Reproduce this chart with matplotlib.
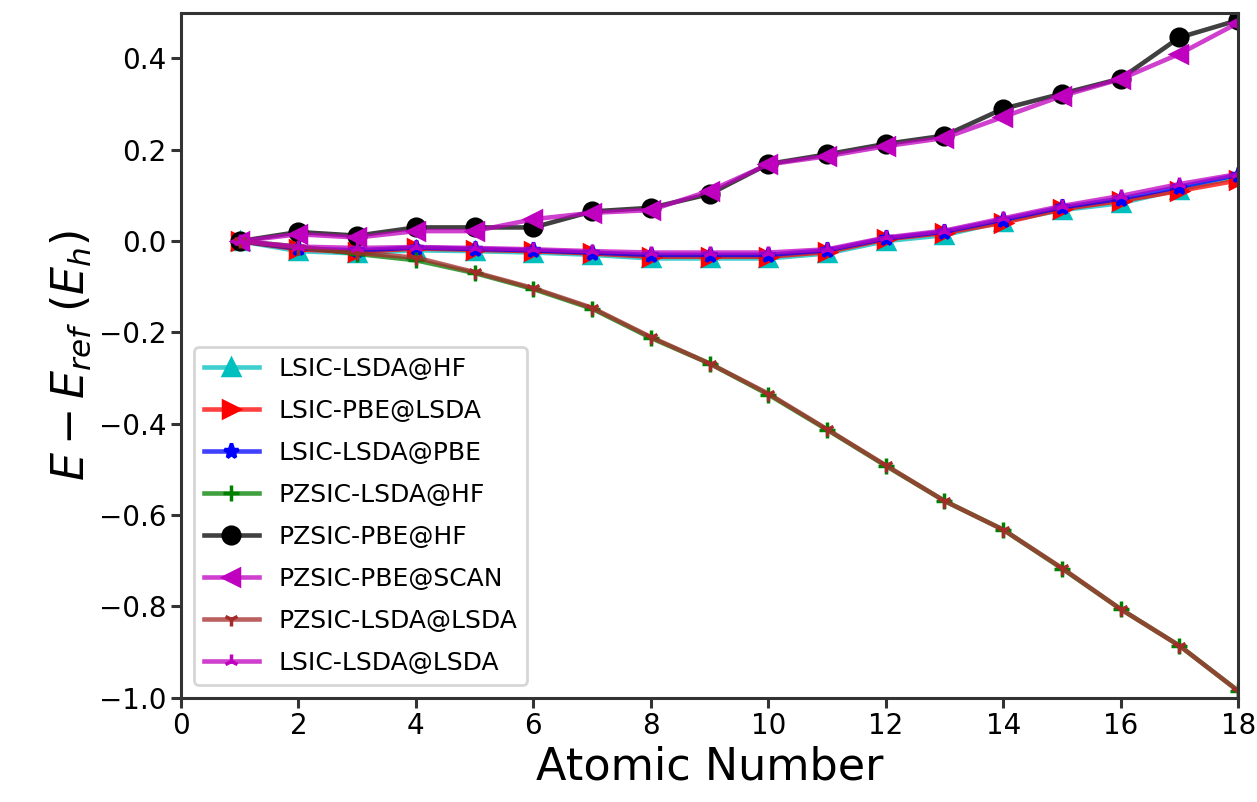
import matplotlib
matplotlib.use("Agg")
import matplotlib.pyplot as plt
from matplotlib.colors import to_rgba

atomic_number = list(range(1, 19))

lsic_lsda_hf = [0, -0.022, -0.027, -0.020, -0.022, -0.025, -0.030, -0.038, -0.038, -0.038, -0.027, 0.000, 0.013, 0.043, 0.068, 0.083, 0.113, 0.140]
lsic_pbe_lsda = [0, -0.018, -0.024, -0.016, -0.019, -0.022, -0.027, -0.034, -0.034, -0.034, -0.024, 0.004, 0.018, 0.040, 0.070, 0.088, 0.110, 0.133]
lsic_lsda_pbe = [0, -0.016, -0.020, -0.014, -0.017, -0.020, -0.025, -0.030, -0.030, -0.030, -0.020, 0.006, 0.021, 0.047, 0.074, 0.093, 0.119, 0.145]
pzsic_lsda_hf = [0, -0.012, -0.028, -0.042, -0.070, -0.105, -0.148, -0.212, -0.268, -0.336, -0.413, -0.492, -0.569, -0.632, -0.717, -0.806, -0.886, -0.985]
pzsic_pbe_hf = [0, 0.020, 0.012, 0.030, 0.030, 0.030, 0.065, 0.073, 0.103, 0.169, 0.190, 0.213, 0.231, 0.290, 0.323, 0.356, 0.446, 0.484]
pzsic_pbe_scan = [0, 0.015, 0.008, 0.022, 0.022, 0.048, 0.062, 0.068, 0.110, 0.168, 0.186, 0.208, 0.226, 0.272, 0.318, 0.355, 0.410, 0.478]
pzsic_lsda_lsda = [0, -0.014, -0.026, -0.036, -0.068, -0.103, -0.146, -0.210, -0.268, -0.334, -0.412, -0.491, -0.569, -0.632, -0.716, -0.806, -0.886, -0.985]
lsic_lsda_lsda = [0, -0.012, -0.015, -0.013, -0.015, -0.018, -0.022, -0.025, -0.025, -0.025, -0.018, 0.008, 0.023, 0.050, 0.077, 0.099, 0.125, 0.147]

labels = ["LSIC-LSDA@HF", "LSIC-PBE@LSDA", "LSIC-LSDA@PBE", "PZSIC-LSDA@HF",
          "PZSIC-PBE@HF", "PZSIC-PBE@SCAN", "PZSIC-LSDA@LSDA", "LSIC-LSDA@LSDA"]
values = [lsic_lsda_hf, lsic_pbe_lsda, lsic_lsda_pbe, pzsic_lsda_hf,
          pzsic_pbe_hf, pzsic_pbe_scan, pzsic_lsda_lsda, lsic_lsda_lsda]
colors = ["c", "r", "b", "g", "k", "m", "brown", "m"]
markers = ["^", ">", "*", "+", "o", "<", "1", "2"]
msizes = [12, 12, 11, 12, 12, 12, 10, 10]

fig = plt.figure(figsize=(12.57, 8.02), dpi=100)
ax = fig.add_axes([0.144, 0.130, 0.841, 0.854])

for label, vals, col, mk, ms in zip(labels, values, colors, markers, msizes):
    ax.plot(atomic_number, vals, color=to_rgba(col, 0.75), marker=mk, markersize=ms,
            markerfacecolor=col, markeredgecolor=col,
            linewidth=3.3, markeredgewidth=2.5, label=label)

ax.set_xlim(0, 18)
ax.set_ylim(-1.0, 0.5)
ax.set_xticks(range(0, 19, 2))
ax.set_yticks([-1.0, -0.8, -0.6, -0.4, -0.2, 0.0, 0.2, 0.4])
ax.tick_params(axis="both", labelsize=20, length=7, width=2.2, color="#333333")
for s in ax.spines.values():
    s.set_linewidth(2.2)
    s.set_color("#333333")

ax.set_xlabel("Atomic Number", fontsize=32)
ax.set_ylabel(r"$E - E_{ref}\ (E_h)$", fontsize=32)

leg = ax.legend(loc="lower left", fontsize=18, handlelength=2.2, labelspacing=0.72)
leg.get_frame().set_linewidth(2)

fig.savefig("out.png", dpi=100)
